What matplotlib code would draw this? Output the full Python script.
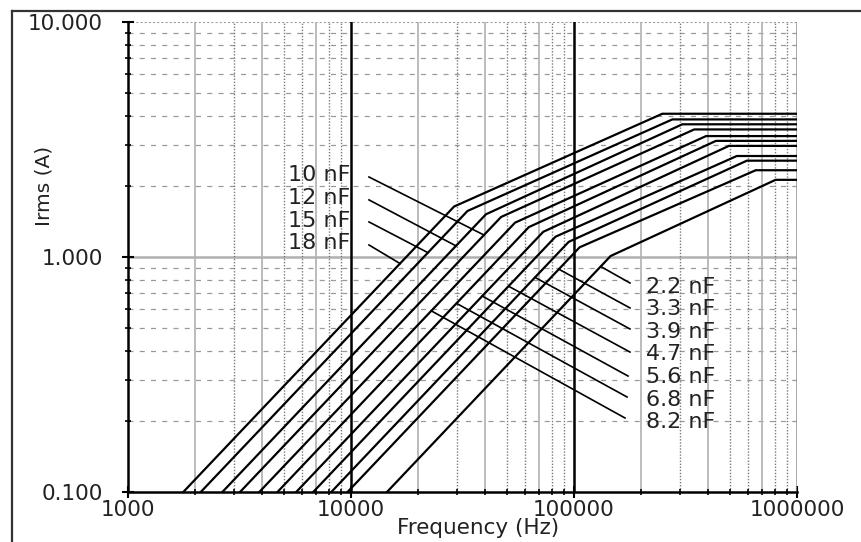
import matplotlib
matplotlib.use('Agg')
import matplotlib.pyplot as plt
from matplotlib.lines import Line2D

# ---------------- data ----------------
cap_labels = ['18 nF', '15 nF', '12 nF', '10 nF', '8.2 nF', '6.8 nF',
              '5.6 nF', '4.7 nF', '3.9 nF', '3.3 nF', '2.2 nF']
f_start = [1770, 2120, 2650, 3180, 3880, 4680, 5680, 6770, 8160, 9650, 14500]
i_start = 0.1
f_knee1 = [29000, 33300, 40300, 47100, 54400, 62700, 72800, 82600, 94700, 106000, 146000]
i_knee1 = [1.64, 1.57, 1.52, 1.48, 1.40, 1.34, 1.28, 1.22, 1.16, 1.10, 1.01]
f_knee2 = [249000, 276000, 306000, 346000, 391000, 433000, 495000, 537000, 596000, 653000, 802000]
i_knee2 = [4.07, 3.85, 3.67, 3.49, 3.27, 3.12, 2.97, 2.69, 2.57, 2.34, 2.13]
f_end = 1000000

# left labels and leader lines
left_labels = ['10 nF', '12 nF', '15 nF', '18 nF']
left_label_f = 9900
left_label_i = [2.106, 1.68, 1.342, 1.081]
left_lead_f0 = [12040, 12040, 12040, 12040]
left_lead_i0 = [2.19, 1.75, 1.41, 1.125]
left_lead_f1 = [39480, 29570, 22140, 16590]
left_lead_i1 = [1.24, 1.115, 1.043, 0.938]

# right labels and leader lines
right_labels = ['2.2 nF', '3.3 nF', '3.9 nF', '4.7 nF', '5.6 nF', '6.8 nF', '8.2 nF']
right_label_f = 210300
right_label_i = [0.703, 0.566, 0.452, 0.3645, 0.291, 0.2323, 0.1872]
right_lead_f0 = [131800, 85550, 66830, 50880, 38770, 29720, 22910]
right_lead_i0 = [0.911, 0.887, 0.819, 0.751, 0.682, 0.635, 0.590]
right_lead_f1 = [178300, 178300, 178300, 178300, 174700, 172900, 169300]
right_lead_i1 = [0.775, 0.607, 0.494, 0.394, 0.3115, 0.2537, 0.2065]

x_ticks = [1000, 10000, 100000, 1000000]
x_ticklabels = ['1000', '10000', '100000', '1000000']
y_ticks = [0.1, 1, 10]
y_ticklabels = ['0.100', '1.000', '10.000']

# ---------------- figure ----------------
plt.rcParams['font.family'] = ['DejaVu Sans']
W, H = 862, 542
fig = plt.figure(figsize=(W / 100, H / 100), dpi=100)
ax = fig.add_axes([128 / W, 1 - 492 / H, (797 - 128) / W, (492 - 22) / H])
ax.set_xscale('log')
ax.set_yscale('log')
ax.set_xlim(1000, 1000000)
ax.set_ylim(0.1, 10)

# grid: horizontal minor dashed
for dec in [0.1, 1]:
    for m in range(2, 10):
        ax.axhline(dec * m, color='#9a9a9a', lw=0.9, ls=(0, (4, 5)), zorder=1)
ax.axhline(1, color='#b0b0b0', lw=1.8, zorder=1)
ax.axhline(10, color='#9a9a9a', lw=1.5, ls=(0, (1, 1)), zorder=1)

# grid: vertical
for dec in [1000, 10000, 100000]:
    for m in range(2, 10):
        if m in (2, 4, 7):
            ax.axvline(dec * m, color='#b0b0b0', lw=1.2, zorder=1)
        else:
            ax.axvline(dec * m, color='#7a7a7a', lw=1.0, ls=(0, (1, 1.2)), zorder=1)
ax.axvline(10000, color='black', lw=1.8, zorder=2)
ax.axvline(100000, color='black', lw=1.8, zorder=2)
ax.axvline(1000000, color='#909090', lw=1.8, zorder=2)

# curves
for k in range(len(cap_labels)):
    xs = [f_start[k], f_knee1[k], f_knee2[k], f_end]
    ys = [i_start, i_knee1[k], i_knee2[k], i_knee2[k]]
    ax.plot(xs, ys, color='black', lw=1.6, solid_joinstyle='miter',
            clip_on=True, zorder=3)

# leader lines + labels
lab_fs = 16
for k, lab in enumerate(left_labels):
    ax.plot([left_lead_f0[k], left_lead_f1[k]], [left_lead_i0[k], left_lead_i1[k]],
            color='black', lw=1.2, zorder=3)
    ax.text(left_label_f, left_label_i[k], lab, ha='right', va='baseline',
            fontsize=lab_fs, color='#222222', zorder=4)
for k, lab in enumerate(right_labels):
    ax.plot([right_lead_f0[k], right_lead_f1[k]], [right_lead_i0[k], right_lead_i1[k]],
            color='black', lw=1.2, zorder=3)
    ax.text(right_label_f, right_label_i[k], lab, ha='left', va='baseline',
            fontsize=lab_fs, color='#222222', zorder=4)

# axes styling
for s in ['top', 'right']:
    ax.spines[s].set_visible(False)
ax.spines['left'].set_linewidth(1.8)
ax.spines['bottom'].set_linewidth(1.8)
ax.spines['left'].set_zorder(5)
ax.spines['bottom'].set_zorder(5)

ax.set_xticks(x_ticks)
ax.set_xticklabels(x_ticklabels)
ax.set_yticks(y_ticks)
ax.set_yticklabels(y_ticklabels)
ax.tick_params(axis='both', which='major', direction='inout', length=8, width=1.5,
               labelsize=15.5, colors='black', labelcolor='#222222')
ax.tick_params(axis='y', which='major', pad=14)
ax.tick_params(axis='x', which='major', pad=2)
ax.tick_params(axis='both', which='minor', direction='inout', length=5, width=1.2)
ax.xaxis.set_minor_formatter(plt.NullFormatter())
ax.yaxis.set_minor_formatter(plt.NullFormatter())

fig.text(478 / W, 1 - 528 / H, 'Frequency (Hz)', ha='center', va='center',
         fontsize=15.5, color='#222222')
fig.text(44 / W, 1 - 186 / H, 'Irms (A)', ha='center', va='center', rotation=90,
         fontsize=14.5, color='#222222')

# outer frame (left and top edges visible)
fig.add_artist(Line2D([12 / W, 12 / W], [0, 1 - 11 / H], transform=fig.transFigure,
                      color='#333333', lw=1.6))
fig.add_artist(Line2D([12 / W, 1], [1 - 11 / H, 1 - 11 / H], transform=fig.transFigure,
                      color='#333333', lw=1.6))

fig.savefig('out.png', dpi=100)
